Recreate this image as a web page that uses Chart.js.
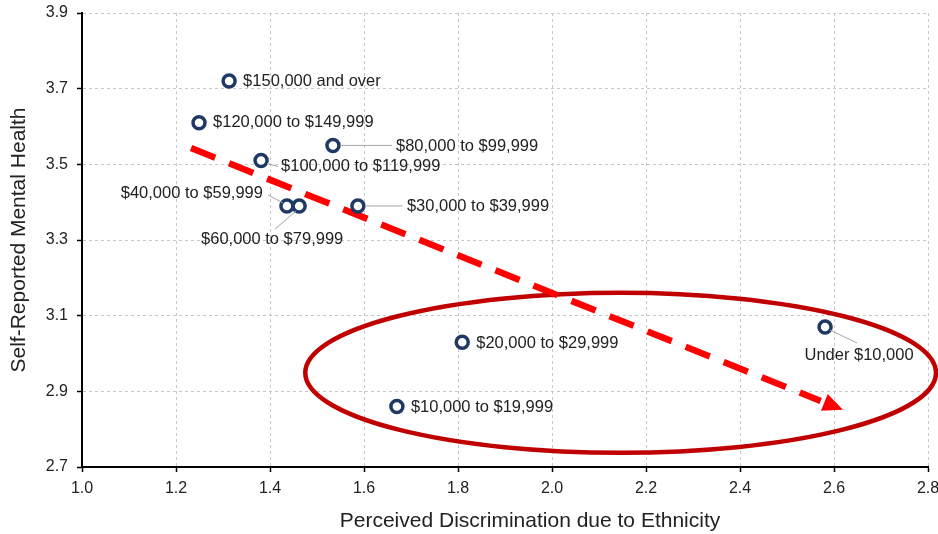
<!DOCTYPE html>
<html>
<head>
<meta charset="utf-8">
<script src="https://cdn.jsdelivr.net/npm/chart.js@4.4.1/dist/chart.umd.min.js"></script>
<style>
  html, body { margin: 0; padding: 0; background: #ffffff; }
  #wrap { width: 938px; height: 534px; position: relative; }
</style>
</head>
<body>
<div id="wrap"><canvas id="c" width="938" height="534"></canvas></div>
<script>
// ---------- Data ----------
const incomeGroups = [
  '$150,000 and over',
  '$120,000 to $149,999',
  '$100,000 to $119,999',
  '$80,000 to $99,999',
  '$40,000 to $59,999',
  '$60,000 to $79,999',
  '$30,000 to $39,999',
  '$20,000 to $29,999',
  '$10,000 to $19,999',
  'Under $10,000'
];
const perceivedDiscrimination = [1.313, 1.249, 1.381, 1.534, 1.436, 1.462, 1.587, 1.809, 1.670, 2.581];
const mentalHealth = [3.72, 3.61, 3.51, 3.55, 3.39, 3.39, 3.39, 3.03, 2.86, 3.07];

const xTickValues = [1.0, 1.2, 1.4, 1.6, 1.8, 2.0, 2.2, 2.4, 2.6, 2.8];
const yTickValues = [2.7, 2.9, 3.1, 3.3, 3.5, 3.7, 3.9];

const xAxisTitle = 'Perceived Discrimination due to Ethnicity';
const yAxisTitle = 'Self-Reported Mental Health';

// annotations in data units
const trendFrom = [1.232, 3.543];
const trendTo = [2.619, 2.851];
const ellipseCenter = [2.146, 2.949];
const ellipseRadii = [0.671, 0.2115];

// ---------- Styling ----------
const FONT = "'Liberation Sans', Arial, sans-serif";
const TEXT = '#222222';

// label placement (pixel offsets from the point)
const labelPlacement = {
  '$150,000 and over':   { dx: 14, dy: 0, align: 'left' },
  '$120,000 to $149,999':{ dx: 14, dy: 0, align: 'left' },
  '$100,000 to $119,999':{ dx: 20, dy: 6, align: 'left', leader: [[6, 3], [17, 6]] },
  '$80,000 to $99,999':  { dx: 63, dy: 1, align: 'left', leader: [[7, 0], [59, 0]] },
  '$40,000 to $59,999':  { dx: -24, dy: -12, align: 'right', leader: [[-4, -3], [-19, -11]] },
  '$60,000 to $79,999':  { dx: -27, dy: 34, align: 'center', leader: [[-3, 5], [-24, 23]] },
  '$30,000 to $39,999':  { dx: 49, dy: 1, align: 'left', leader: [[7, 0], [45, 0]] },
  '$20,000 to $29,999':  { dx: 14, dy: 1, align: 'left' },
  '$10,000 to $19,999':  { dx: 14, dy: 1, align: 'left' },
  'Under $10,000':       { dx: 34, dy: 28, align: 'center', leader: [[5, 3], [32, 16]] }
};

const overlayPlugin = {
  id: 'overlay',
  beforeDatasetsDraw(chart) {
    const { ctx, scales: { x, y } } = chart;
    // ellipse
    const cx = x.getPixelForValue(ellipseCenter[0]);
    const cy = y.getPixelForValue(ellipseCenter[1]);
    const rx = Math.abs(x.getPixelForValue(ellipseCenter[0] + ellipseRadii[0]) - cx);
    const ry = Math.abs(y.getPixelForValue(ellipseCenter[1] + ellipseRadii[1]) - cy);
    ctx.save();
    ctx.beginPath();
    ctx.ellipse(cx, cy, rx, ry, 0, 0, Math.PI * 2);
    ctx.lineWidth = 4.5;
    ctx.strokeStyle = '#C00000';
    ctx.stroke();
    ctx.restore();

    // dashed arrow
    const x0 = x.getPixelForValue(trendFrom[0]), y0 = y.getPixelForValue(trendFrom[1]);
    const x1 = x.getPixelForValue(trendTo[0]), y1 = y.getPixelForValue(trendTo[1]);
    const len = Math.hypot(x1 - x0, y1 - y0);
    const ux = (x1 - x0) / len, uy = (y1 - y0) / len;
    const nx = -uy, ny = ux;
    const headL = 20, headW = 9;
    ctx.save();
    ctx.strokeStyle = '#FF0000';
    ctx.fillStyle = '#FF0000';
    ctx.lineWidth = 6.5;
    ctx.lineCap = 'butt';
    ctx.setLineDash([26, 15]);
    ctx.beginPath();
    ctx.moveTo(x0, y0);
    ctx.lineTo(x1 - ux * (headL + 4), y1 - uy * (headL + 4));
    ctx.stroke();
    ctx.setLineDash([]);
    const bx = x1 - ux * headL, by = y1 - uy * headL;
    ctx.beginPath();
    ctx.moveTo(x1, y1);
    ctx.lineTo(bx + nx * headW, by + ny * headW);
    ctx.lineTo(bx - nx * headW, by - ny * headW);
    ctx.closePath();
    ctx.fill();
    ctx.restore();
  },
  afterDatasetsDraw(chart) {
    const { ctx, scales: { x, y } } = chart;
    ctx.save();
    ctx.font = '16.5px ' + FONT;
    ctx.fillStyle = TEXT;
    ctx.textBaseline = 'middle';
    incomeGroups.forEach((name, i) => {
      const px = x.getPixelForValue(perceivedDiscrimination[i]);
      const py = y.getPixelForValue(mentalHealth[i]);
      const p = labelPlacement[name];
      if (p.leader) {
        ctx.strokeStyle = '#A6A6A6';
        ctx.lineWidth = 1;
        ctx.beginPath();
        ctx.moveTo(px + p.leader[0][0], py + p.leader[0][1]);
        ctx.lineTo(px + p.leader[1][0], py + p.leader[1][1]);
        ctx.stroke();
      }
      ctx.textAlign = p.align;
      ctx.fillText(name, px + p.dx, py + p.dy);
    });
    ctx.restore();
  },
  afterDraw(chart) {
    const { ctx, chartArea } = chart;
    ctx.save();
    ctx.font = '21px ' + FONT;
    ctx.fillStyle = TEXT;
    ctx.textAlign = 'center';
    ctx.textBaseline = 'middle';
    ctx.fillText(xAxisTitle, (chartArea.left + chartArea.right) / 2 + 25, 521);
    ctx.restore();
  }
};

new Chart(document.getElementById('c'), {
  type: 'scatter',
  data: {
    datasets: [{
      label: 'Income groups',
      data: perceivedDiscrimination.map((v, i) => ({ x: v, y: mentalHealth[i] })),
      pointRadius: 6,
      pointHoverRadius: 6,
      pointBorderWidth: 3.5,
      pointBackgroundColor: '#ffffff',
      pointBorderColor: '#1F3864',
      showLine: false
    }]
  },
  options: {
    responsive: false,
    animation: false,
    devicePixelRatio: 1,
    layout: { padding: { top: 13, right: 10, left: 0, bottom: 0 } },
    plugins: {
      legend: { display: false },
      tooltip: { enabled: false }
    },
    scales: {
      x: {
        type: 'linear',
        min: 1.0,
        max: 2.8,
        afterBuildTicks(scale) { scale.ticks = xTickValues.map(v => ({ value: v })); },
        afterFit(scale) {
          scale.height = 67;
          scale.paddingLeft = 0;
          scale.paddingRight = 0;
        },
        ticks: {
          font: { family: FONT, size: 16 },
          color: TEXT,
          padding: 7,
          callback: v => Number(v).toFixed(1)
        },
        grid: {
          color: '#C8C8C8',
          lineWidth: 1,
          tickLength: 5,
          tickColor: '#000000',
          tickWidth: 1.5
        },
        border: { display: true, color: '#000000', width: 2, dash: [3, 3] },
        title: { display: false }
      },
      y: {
        type: 'linear',
        min: 2.7,
        max: 3.9,
        afterBuildTicks(scale) { scale.ticks = yTickValues.map(v => ({ value: v })); },
        afterFit(scale) {
          scale.width = 82;
          scale.paddingTop = 0;
          scale.paddingBottom = 0;
        },
        ticks: {
          font: { family: FONT, size: 16 },
          color: TEXT,
          padding: 9,
          callback: v => Number(v).toFixed(1)
        },
        grid: {
          color: '#C8C8C8',
          lineWidth: 1,
          tickLength: 5,
          tickColor: '#000000',
          tickWidth: 1.5
        },
        border: { display: true, color: '#000000', width: 2, dash: [3, 3] },
        title: {
          display: true,
          text: yAxisTitle,
          font: { family: FONT, size: 21 },
          color: TEXT,
          padding: { top: 7, bottom: 0 }
        }
      }
    }
  },
  plugins: [overlayPlugin]
});
</script>
</body>
</html>
